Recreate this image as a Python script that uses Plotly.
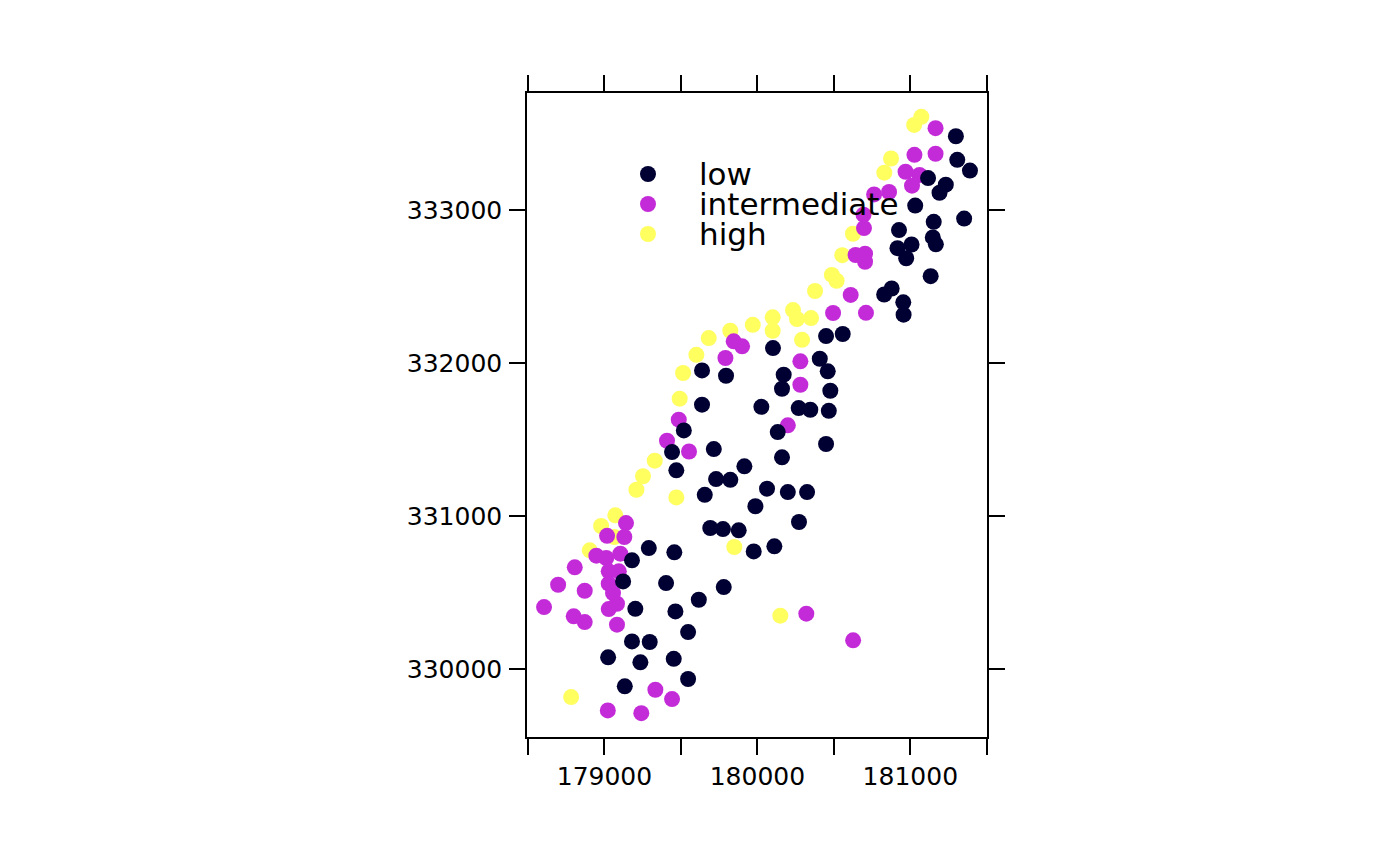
import plotly.graph_objects as go

# class labels and colours
classes = ["low", "intermediate", "high"]
colors = ["#000033", "#C42BD8", "#FFFF60"]

x_low = [181298, 181307, 181390, 181116, 181232, 181191, 181032, 180926, 181153, 181352,
         181147, 181167, 180916, 181008, 180973, 181133, 180829, 180878, 180954, 180956,
         180449, 180558, 180102, 180408, 179638, 179795, 180460, 180172, 180161, 180477,
         179638, 180026, 180270, 180346, 180467, 180133, 180449, 179715, 180161, 179915,
         179730, 179823, 179656, 180063, 180199, 180325, 179987, 179692, 179775, 179878,
         180272, 179976, 180111, 179780, 179617, 179519, 179442, 179470, 179290, 179457,
         179180, 179122, 179403, 179202, 179464, 179547, 179180, 179296, 179024, 179235,
         179453, 179547, 179133]
y_low = [333484, 333330, 333260, 333211, 333168, 333115, 333031, 332871, 332925, 332946,
         332823, 332778, 332753, 332777, 332687, 332570, 332450, 332489, 332399, 332318,
         332178, 332192, 332100, 332030, 331954, 331919, 331948, 331926, 331834, 331821,
         331730, 331716, 331708, 331697, 331690, 331551, 331473, 331440, 331386, 331327,
         331244, 331239, 331141, 331181, 331159, 331159, 331066, 330924, 330917, 330909,
         330963, 330771, 330804, 330538, 330455, 331562, 331420, 331301, 330793, 330765,
         330713, 330575, 330564, 330396, 330379, 330244, 330183, 330179, 330079, 330046,
         330069, 329937, 329889]

x_int = [181165, 181165, 181027, 180969, 181060, 181011, 180763, 180861, 180694, 180697,
         180642, 180704, 180704, 180610, 180710, 180495, 179845, 179900, 179791, 180281,
         180281, 180199, 179553, 180320, 180626, 179486, 179409, 179141, 179017, 179130,
         178947, 179012, 179104, 178806, 179028, 179094, 179028, 178697, 178871, 179056,
         178605, 179028, 179082, 178799, 178871, 179082, 179333, 179442, 179022, 179241]
y_int = [333537, 333370, 333363, 333252, 333231, 333161, 333104, 333120, 332972, 332884,
         332708, 332717, 332664, 332447, 332330, 332329, 332144, 332111, 332035, 332013,
         331860, 331595, 331424, 330364, 330190, 331632, 331494, 330956, 330873, 330865,
         330743, 330728, 330756, 330667, 330641, 330641, 330560, 330553, 330514, 330499,
         330407, 330394, 330429, 330347, 330309, 330292, 329867, 329806, 329732, 329714]

x_high = [181072, 181025, 180874, 180830, 180625, 180555, 180487, 180518, 180377, 180233,
          180259, 180351, 180100, 180100, 179970, 179823, 179682, 180292, 179601, 179849,
          180150, 179514, 179492, 179329, 179252, 179209, 179470, 179071, 178978, 179065,
          178904, 178782]
y_high = [333611, 333558, 333339, 333246, 332847, 332707, 332578, 332540, 332473, 332348,
          332290, 332296, 332301, 332213, 332252, 332213, 332165, 332154, 332056, 330800,
          330351, 331937, 331769, 331364, 331262, 331174, 331124, 331007, 330937, 330865,
          330778, 329819]

x_ticks = [178500, 179000, 179500, 180000, 180500, 181000, 181500]
x_ticktext = ["", "179000", "", "180000", "", "181000", ""]
y_ticks = [330000, 331000, 332000, 333000]

series = {"low": (x_low, y_low), "intermediate": (x_int, y_int), "high": (x_high, y_high)}

fig = go.Figure()
for name in ["high", "intermediate", "low"]:
    i = classes.index(name)
    xs, ys = series[name]
    fig.add_trace(go.Scatter(x=xs, y=ys, mode="markers", name=name, showlegend=False,
                             marker=dict(size=16, color=colors[i], line=dict(width=0))))

# padded ranges (4% of data extent each side)
allx = x_low + x_int + x_high
ally = y_low + y_int + y_high
dx = (max(allx) - min(allx)) * 0.04
dy = (max(ally) - min(ally)) * 0.04

font = dict(family="DejaVu Sans", size=25, color="black")

fig.update_xaxes(range=[min(allx) - dx, max(allx) + dx], tickvals=x_ticks, ticktext=x_ticktext,
                 ticks="outside", ticklen=16, tickwidth=1.5, tickcolor="black",
                 showline=True, linecolor="black", linewidth=1.5, mirror="ticks",
                 showgrid=False, zeroline=False, tickfont=font)
fig.update_yaxes(range=[min(ally) - dy, max(ally) + dy], tickvals=y_ticks,
                 ticktext=[str(v) for v in y_ticks],
                 ticks="outside", ticklen=16, tickwidth=1.5, tickcolor="black",
                 showline=True, linecolor="black", linewidth=1.5, mirror="ticks",
                 showgrid=False, zeroline=False, tickfont=font, ticklabelstandoff=2)

# legend drawn inside the panel
leg_x = 0.263
leg_text_x = 0.3717
leg_y = [0.8742, 0.8276, 0.7811]
for i, name in enumerate(classes):
    fig.add_shape(type="circle", xref="paper", yref="paper", xsizemode="pixel", ysizemode="pixel",
                  xanchor=leg_x, yanchor=leg_y[i], x0=-8, x1=8, y0=-8, y1=8,
                  fillcolor=colors[i], line=dict(width=0))
    fig.add_annotation(x=leg_text_x, y=leg_y[i], xref="paper", yref="paper", text=name,
                       showarrow=False, xanchor="left", yanchor="middle", borderpad=0,
                       font=dict(family="DejaVu Sans", size=31, color="black"))

# page body has an 8px margin, so the figure is 8px smaller than the window
fig.update_layout(width=1392, height=857, margin=dict(l=519, r=413, t=85, b=128),
                  plot_bgcolor="white", paper_bgcolor="white", showlegend=False)

fig.write_html("out.html")
